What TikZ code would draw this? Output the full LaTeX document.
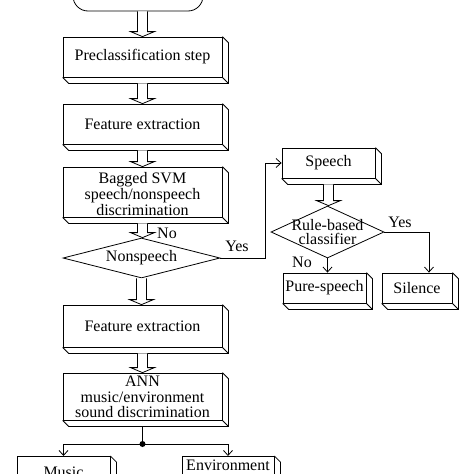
\documentclass[tikz,border=0pt]{standalone}
\usepackage{fontspec}
\setmainfont{Liberation Serif}
\usetikzlibrary{calc,shapes.geometric,arrows.meta}
\newcommand\hollowarrow[2]{\draw[line width=0.8pt, fill=white] let \p1=#1, \p2=#2 in
  (\x1-5pt,\y1) -- (\x1-5pt,\y2+5pt) -- (\x1-12pt,\y2+5pt) -- (\x1,\y2) --
  (\x1+12pt,\y2+5pt) -- (\x1+5pt,\y2+5pt) -- (\x1+5pt,\y1);}
\begin{document}
\begin{tikzpicture}[x=1pt,y=-1pt,
  every node/.style={font=\fontsize{16}{15.6}\selectfont},
  box/.style={draw, line width=0.8pt, fill=white, inner sep=0pt, align=center},
  dia/.style={draw, line width=0.8pt, diamond, inner sep=0pt},
  conn/.style={line width=0.8pt, -{Straight Barb[length=5pt,width=9pt]}},
  lbl/.style={inner sep=0pt}]
\useasboundingbox (0,0) rectangle (474,474);
\clip (0,0) rectangle (474,474);
\fill[white] (0,0) rectangle (474,474);

% left column
\node[box, rounded corners=15pt, minimum width=130, minimum height=50] (start) at (138,-14) {};
\node[box, minimum width=159, minimum height=40] (pre) at (142.5,57) {Preclassification step};
\node[box, minimum width=159, minimum height=40] (fe1) at (142.5,124) {Feature extraction};
\node[box, minimum width=159, minimum height=50] (svm) at (142.5,192) {};
\node[lbl, align=center] (svmtext) at ($(svm.center)+(0,2)$) {Bagged SVM\\speech/nonspeech\\discrimination};
\node[dia, minimum width=157, minimum height=40] (nons) at (141.5,258) {};
\node[lbl] (nonstext) at (nons) {Nonspeech};
\node[box, minimum width=159, minimum height=42] (fe2) at (142.5,326) {Feature extraction};
\node[box, minimum width=159, minimum height=47] (ann) at (142.5,396.5) {};
\node[lbl, align=center] (anntext) at ($(ann.center)+(0,0.5)$) {ANN\\music/environment\\sound discrimination};
\node[box, minimum width=93, minimum height=40, anchor=north] (music) at (63.5,456) {};
\node[lbl, anchor=north] (musictext) at ($(music.north)+(0,11)$) {Music};
\node[box, minimum width=92, minimum height=40, anchor=north] (env) at (228,456) {};
\node[lbl, anchor=north] (envtext) at ($(env.north)+(0,4)$) {Environment};

% right column
\node[box, minimum width=93, minimum height=30] (speech) at (328.5,163) {Speech};
\node[dia, minimum width=113, minimum height=52] (rule) at (327.5,232) {};
\node[lbl, align=center, font=\fontsize{16}{14.5}\selectfont] (ruletext) at (327.5,232) {Rule-based\\classifier};
\node[box, minimum width=83, minimum height=30] (pure) at (324.5,288) {Pure-speech};
\node[box, minimum width=70, minimum height=30] (silence) at (417,288) {Silence};

% bevels
\foreach \n in {pre,fe1,svm,fe2,ann,music,env,speech,pure,silence}
  \draw[line width=0.8pt] (\n.north east) -- ++(6,6) |- ($(\n.south west)+(6,6)$) -- (\n.south west)
    (\n.south east) -- ++(6,6);

% hollow arrows
\hollowarrow{(start.south -| pre.north)}{(pre.north)}
\hollowarrow{($(pre.south)+(0,6)$)}{(fe1.north)}
\hollowarrow{($(fe1.south)+(0,6)$)}{(svm.north)}
\hollowarrow{($(svm.south)+(0,6)$)}{(nons.north)}
\hollowarrow{(nons.south)}{(fe2.north)}
\hollowarrow{($(fe2.south)+(0,6)$)}{(ann.north)}
\hollowarrow{($(speech.south)+(0,6)$)}{(rule.north)}

% thin connectors
\draw[conn] (nons.east) -- ++(45,0) |- (speech.west);
\draw[conn] (rule.south) -- (rule.south |- pure.north);
\draw[conn] (rule.east) -| ($(silence.north)+(12,0)$);
\coordinate (dot) at (142.5,444);
\draw[line width=0.8pt] ($(ann.south)+(0,6)$) -- (dot);
\fill (dot) circle (3);
\draw[conn] (dot) -| (music.north);
\draw[conn] (dot) -| (env.north);

% labels
\node[lbl] (lno1) at (167,233) {No};
\node[lbl] (lyes1) at (237,246) {Yes};
\node[lbl] (lyes2) at (400,222) {Yes};
\node[lbl] (lno2) at (302,262) {No};
\end{tikzpicture}
\end{document}
